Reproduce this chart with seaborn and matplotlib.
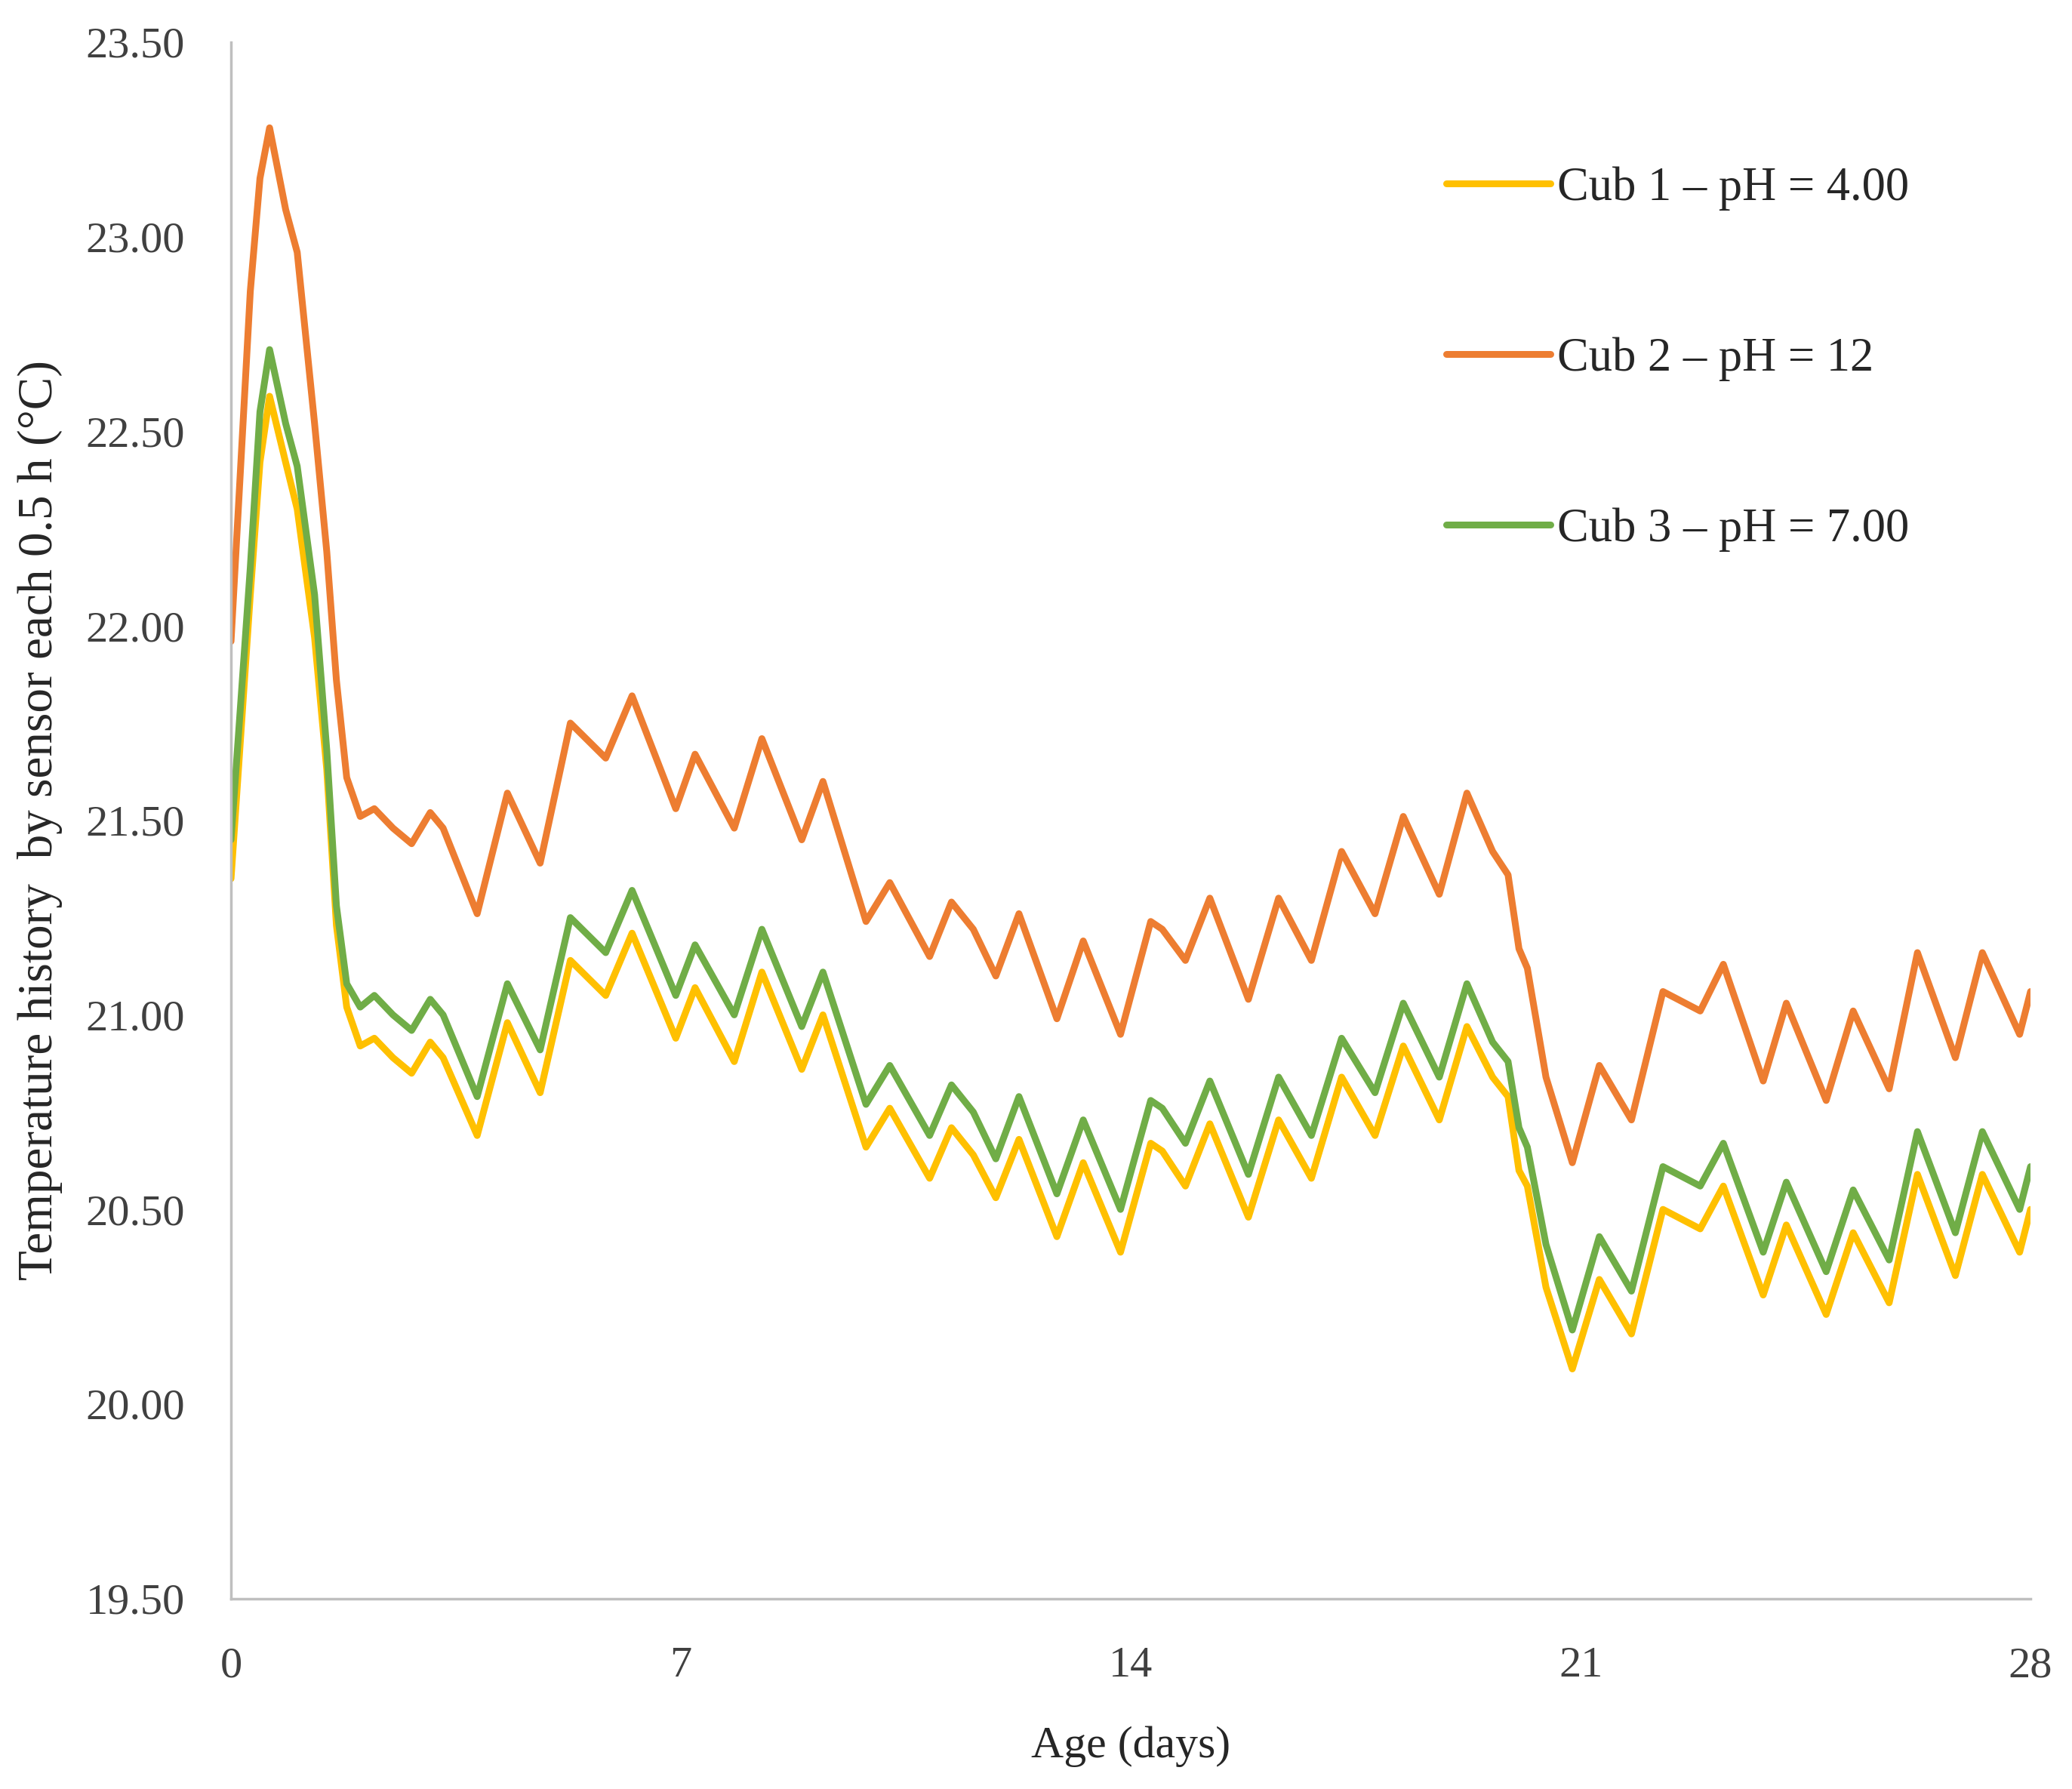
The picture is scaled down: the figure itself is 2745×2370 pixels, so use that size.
import matplotlib
matplotlib.use("Agg")
import matplotlib.pyplot as plt
import seaborn as sns
import pandas as pd

# values (day, temperature in degC)
days = [0.00, 0.30, 0.45, 0.60, 0.85, 1.03, 1.30, 1.49, 1.64, 1.80,
        2.01, 2.23, 2.52, 2.81, 3.10, 3.30, 3.83, 4.30, 4.81, 5.28,
        5.83, 6.24, 6.92, 7.22, 7.83, 8.26, 8.88, 9.21, 9.88, 10.25,
        10.87, 11.21, 11.55, 11.90, 12.26, 12.85, 13.26, 13.84, 14.31, 14.49,
        14.85, 15.23, 15.83, 16.30, 16.81, 17.28, 17.80, 18.24, 18.80, 19.23,
        19.63, 19.87, 20.04, 20.17, 20.46, 20.87, 21.29, 21.79, 22.28, 22.86,
        23.22, 23.84, 24.20, 24.82, 25.24, 25.80, 26.24, 26.83, 27.25, 27.83,
        28.00]

cub2_ph12 = [21.96, 22.86, 23.15, 23.28, 23.07, 22.96, 22.52, 22.19, 21.86, 21.61,
             21.51, 21.53, 21.48, 21.44, 21.52, 21.48, 21.26, 21.57, 21.39, 21.75,
             21.66, 21.82, 21.53, 21.67, 21.48, 21.71, 21.45, 21.60, 21.24, 21.34,
             21.15, 21.29, 21.22, 21.10, 21.26, 20.99, 21.19, 20.95, 21.24, 21.22,
             21.14, 21.30, 21.04, 21.30, 21.14, 21.42, 21.26, 21.51, 21.31, 21.57,
             21.42, 21.36, 21.17, 21.12, 20.84, 20.62, 20.87, 20.73, 21.06, 21.01,
             21.13, 20.83, 21.03, 20.78, 21.01, 20.81, 21.16, 20.89, 21.16, 20.95,
             21.06]

cub3_ph7 = [21.45, 22.15, 22.55, 22.71, 22.52, 22.41, 22.08, 21.68, 21.28, 21.08,
            21.02, 21.05, 21.00, 20.96, 21.04, 21.00, 20.79, 21.08, 20.91, 21.25,
            21.16, 21.32, 21.05, 21.18, 21.00, 21.22, 20.97, 21.11, 20.77, 20.87,
            20.69, 20.82, 20.75, 20.63, 20.79, 20.54, 20.73, 20.50, 20.78, 20.76,
            20.67, 20.83, 20.59, 20.84, 20.69, 20.94, 20.80, 21.03, 20.84, 21.08,
            20.93, 20.88, 20.71, 20.66, 20.41, 20.19, 20.43, 20.29, 20.61, 20.56,
            20.67, 20.39, 20.57, 20.34, 20.55, 20.37, 20.70, 20.44, 20.70, 20.50,
            20.61]

cub1_ph4 = [21.35, 22.08, 22.42, 22.59, 22.42, 22.30, 21.97, 21.63, 21.23, 21.02,
            20.92, 20.94, 20.89, 20.85, 20.93, 20.89, 20.69, 20.98, 20.80, 21.14,
            21.05, 21.21, 20.94, 21.07, 20.88, 21.11, 20.86, 21.00, 20.66, 20.76,
            20.58, 20.71, 20.64, 20.53, 20.68, 20.43, 20.62, 20.39, 20.67, 20.65,
            20.56, 20.72, 20.48, 20.73, 20.58, 20.84, 20.69, 20.92, 20.73, 20.97,
            20.84, 20.79, 20.60, 20.56, 20.30, 20.09, 20.32, 20.18, 20.50, 20.45,
            20.56, 20.28, 20.46, 20.23, 20.44, 20.26, 20.59, 20.33, 20.59, 20.39,
            20.50]

labels = ["Cub 1 \u2013 pH = 4.00", "Cub 2 \u2013 pH = 12", "Cub 3 \u2013 pH = 7.00"]
colors = ["#FFC000", "#ED7D31", "#70AD47"]
x_ticks = [0, 7, 14, 21, 28]
y_ticks = [19.5, 20.0, 20.5, 21.0, 21.5, 22.0, 22.5, 23.0, 23.5]

frames = []
for lab, vals in zip(labels, [cub1_ph4, cub2_ph12, cub3_ph7]):
    frames.append(pd.DataFrame({"day": days, "temp": vals, "cub": lab}))
df = pd.concat(frames, ignore_index=True)

sns.set_style("white")
plt.rcParams["font.family"] = ["Liberation Serif", "DejaVu Serif"]

fig = plt.figure(figsize=(27.45, 23.70), dpi=100)
ax = fig.add_axes([0.1115, 0.1065, 0.8685, 0.8699])

sns.lineplot(data=df, x="day", y="temp", hue="cub", hue_order=labels,
             palette=colors, sort=False, estimator=None, linewidth=6.5, ax=ax)
for ln in ax.lines:
    ln.set_solid_joinstyle("round")
    ln.set_solid_capstyle("round")

ax.set_xlim(0, 28)
ax.set_ylim(19.5, 23.5)
ax.set_xticks(x_ticks)
ax.set_xticklabels([str(t) for t in x_ticks])
ax.set_yticks(y_ticks)
ax.set_yticklabels(["%.2f" % t for t in y_ticks])
ax.tick_params(axis="both", length=0, labelsize=42, colors="#404040")
ax.tick_params(axis="y", pad=44)
ax.tick_params(axis="x", pad=46)

for side in ["top", "right"]:
    ax.spines[side].set_visible(False)
for side in ["left", "bottom"]:
    ax.spines[side].set_color("#BFBFBF")
    ax.spines[side].set_linewidth(2.5)

ax.set_xlabel("Age (days)", fontsize=43, labelpad=38)
ax.set_ylabel("Temperature history  by sensor each 0.5 h (\u00b0C)", fontsize=47, labelpad=22)

handles, hlabels = ax.get_legend_handles_labels()
for h in handles:
    h.set_linewidth(6.5)
ax.legend(handles, hlabels, loc="upper left", bbox_to_anchor=(0.698, 0.907),
          bbox_transform=fig.transFigure, frameon=False, fontsize=45,
          handlelength=2.2, handletextpad=0.15, labelspacing=2.68,
          borderpad=0, borderaxespad=0)

fig.savefig("out.png", dpi=100, facecolor="white")
